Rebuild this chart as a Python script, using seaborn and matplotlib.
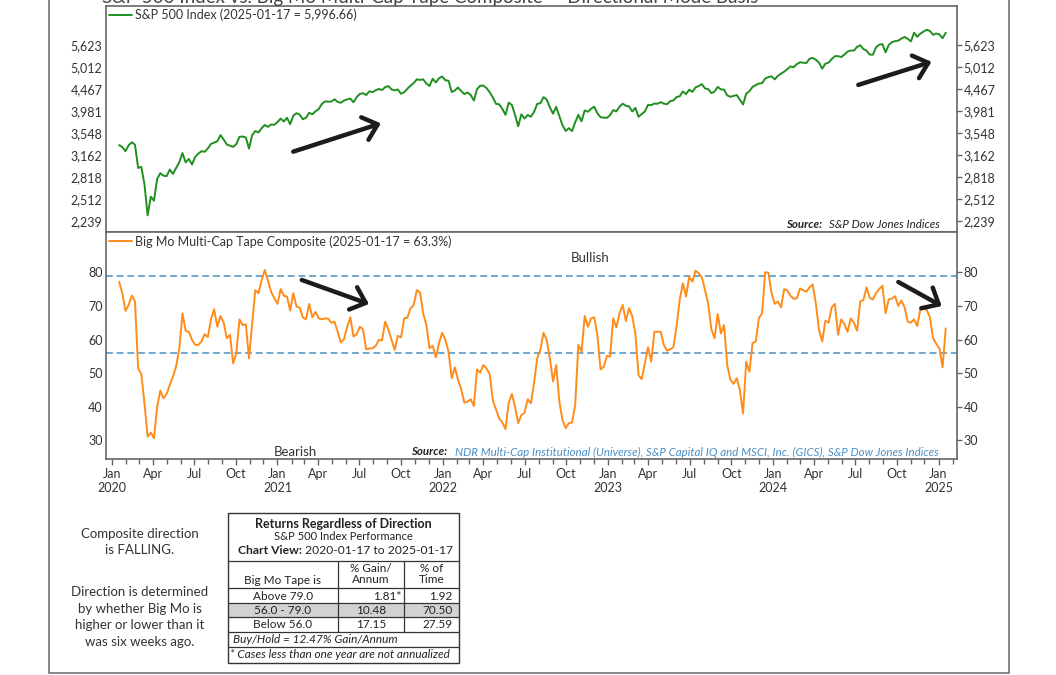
import numpy as np
import pandas as pd
import matplotlib
matplotlib.use("Agg")
import matplotlib.pyplot as plt
import matplotlib.dates as mdates
import matplotlib.ticker as mticker
from matplotlib.patches import Rectangle
from matplotlib.transforms import ScaledTranslation
import seaborn as sns

# ---- data (weekly, Fridays 2020-01-17 .. 2025-01-17) ----
dates = pd.date_range("2020-01-17", "2025-01-17", freq="W-FRI")

spx_2020 = [3329.6, 3295.5, 3225.5, 3327.7, 3380.2, 3337.8, 2954.2, 2972.4, 2711.0, 2304.9,
            2541.5, 2488.7, 2789.8, 2874.6, 2836.7, 2830.7, 2929.8, 2863.7, 2955.5, 3044.3,
            3193.9, 3041.3, 3097.7, 3009.1, 3130.0, 3185.0, 3224.7, 3215.6, 3271.1, 3351.3,
            3372.9, 3397.2, 3508.0, 3426.9, 3340.9, 3319.5, 3298.5, 3348.4, 3477.1, 3483.8,
            3465.4, 3270.0, 3509.4, 3585.2, 3557.5, 3638.4, 3699.1, 3663.5, 3709.4, 3703.1,
            3756.1]
spx_2021 = [3824.7, 3768.3, 3841.5, 3714.2, 3886.8, 3934.8, 3906.7, 3811.2, 3841.9, 3943.3,
            3913.1, 3974.5, 4019.9, 4128.8, 4185.5, 4180.2, 4181.2, 4232.6, 4173.9, 4155.9,
            4204.1, 4229.9, 4247.4, 4166.5, 4280.7, 4352.3, 4369.6, 4327.2, 4411.8, 4395.3,
            4436.5, 4468.0, 4441.7, 4509.4, 4535.4, 4458.6, 4433.0, 4455.5, 4357.0, 4391.3,
            4471.4, 4544.9, 4605.4, 4697.5, 4682.9, 4698.0, 4594.6, 4538.4, 4712.0, 4620.6,
            4725.8, 4766.2]
spx_2022 = [4677.0, 4662.9, 4397.9, 4431.9, 4500.5, 4418.6, 4348.9, 4384.7, 4328.9, 4204.3,
            4463.1, 4543.1, 4545.9, 4488.3, 4392.6, 4271.8, 4131.9, 4123.3, 4023.9, 3901.4,
            4158.2, 4108.5, 3900.9, 3674.8, 3911.7, 3825.3, 3899.4, 3863.2, 3961.6, 4130.3,
            4145.2, 4280.2, 4228.5, 4057.7, 3924.3, 4067.4, 3873.3, 3693.2, 3585.6, 3639.7,
            3583.1, 3752.8, 3901.1, 3770.6, 3992.9, 3965.3, 4026.1, 4071.7, 3934.4, 3852.4,
            3844.8, 3839.5]
spx_2023 = [3895.1, 3999.1, 3972.6, 4070.6, 4136.5, 4090.5, 4079.1, 3970.0, 4045.6, 3861.6,
            3916.6, 3971.0, 4109.3, 4105.0, 4137.6, 4133.5, 4169.5, 4136.3, 4124.1, 4192.0,
            4205.5, 4282.4, 4298.9, 4409.6, 4348.3, 4450.4, 4398.9, 4505.4, 4536.3, 4582.2,
            4478.0, 4464.1, 4369.7, 4405.7, 4515.8, 4457.5, 4450.3, 4320.1, 4288.1, 4308.5,
            4327.8, 4224.2, 4117.4, 4358.3, 4415.2, 4514.0, 4559.3, 4594.6, 4604.4, 4719.2,
            4754.6, 4769.8]
spx_2024 = [4697.2, 4783.8, 4839.8, 4891.0, 4958.6, 5026.6, 5005.6, 5088.8, 5137.1, 5123.7,
            5117.1, 5234.2, 5254.4, 5204.3, 5123.4, 4967.2, 5100.0, 5127.8, 5222.7, 5303.3,
            5304.7, 5277.5, 5347.0, 5431.6, 5464.6, 5460.5, 5567.2, 5615.4, 5505.0, 5459.1,
            5346.6, 5344.2, 5554.3, 5634.6, 5648.4, 5408.4, 5626.0, 5702.6, 5738.2, 5751.1,
            5815.0, 5864.7, 5808.1, 5728.8, 5995.5, 5870.6, 5969.3, 6032.4, 6090.3, 6051.1,
            5930.9, 5970.8]
spx_2025 = [5942.5, 5827.0, 5996.7]

bigmo_2020 = [77.2, 73.8, 68.5, 70.3, 73.1, 71.3, 51.4, 49.7, 41.0, 31.1,
              32.3, 30.6, 40.0, 44.8, 42.5, 43.8, 46.5, 49.0, 52.0, 57.4,
              67.8, 62.6, 62.3, 59.9, 58.4, 58.4, 59.4, 61.6, 60.7, 66.0,
              69.0, 63.8, 67.0, 65.0, 60.4, 61.4, 52.9, 55.9, 66.0, 64.3,
              64.5, 54.4, 64.8, 74.7, 73.8, 77.7, 80.7, 77.5, 74.2, 72.3,
              70.6]
bigmo_2021 = [75.0, 73.0, 72.8, 68.6, 73.8, 69.8, 69.5, 66.6, 66.0,
              70.6, 66.6, 68.2, 66.3, 66.0, 66.3, 66.2, 65.0, 65.3, 62.3,
              59.1, 60.1, 63.7, 66.6, 60.9, 61.6, 63.8, 63.0, 57.1, 57.3,
              57.4, 58.1, 59.9, 59.7, 65.3, 63.0, 59.9, 56.9, 61.1, 60.6,
              66.3, 66.5, 69.3, 70.3, 74.7, 74.0, 67.8, 64.3, 57.4, 58.1,
              54.7, 58.9, 62.0]
bigmo_2022 = [59.9, 56.4, 48.5, 51.7, 48.0, 45.2, 41.2,
              41.5, 42.2, 40.2, 51.1, 50.1, 52.4, 51.4, 49.7, 41.8, 39.2,
              36.5, 35.3, 33.3, 41.2, 43.8, 40.0, 35.1, 37.5,
              38.2, 42.2, 41.0, 47.0, 54.4, 56.9, 62.0, 59.9, 54.4, 47.5,
              52.4, 41.5, 36.0, 33.6, 35.1, 35.3, 40.5, 58.4, 56.4, 67.0,
              63.8, 66.3, 66.6, 61.4, 51.1, 51.9, 55.1]
bigmo_2023 = [54.9, 66.3, 63.6,
              67.8, 70.3, 65.5, 69.3, 67.0, 61.8, 49.4, 48.2, 52.9, 57.7,
              53.4, 62.3, 62.3, 62.3, 58.4, 56.7, 57.1, 57.7, 63.8, 71.8,
              76.7, 72.8, 78.7, 77.2, 80.5, 79.7, 78.5, 74.7, 70.6, 63.0,
              60.4, 67.6, 61.8, 64.3, 52.4, 48.0, 46.8, 48.5, 45.0, 38.0,
              53.4, 50.4, 58.9, 59.4, 66.3, 67.8, 80.0, 79.9, 73.8]
bigmo_2024 = [70.6,
              71.3, 69.6, 75.0, 74.6, 73.0, 72.1, 72.3, 75.2, 74.7, 74.2,
              75.5, 76.4, 70.6, 62.8, 59.4, 65.6, 65.0, 69.6, 70.6, 61.4,
              66.0, 64.6, 62.3, 66.3, 65.0, 62.6, 71.3, 71.8, 75.5, 72.4,
              71.9, 73.8, 75.0, 76.0, 67.8, 71.9, 72.2, 72.9, 70.0, 71.6,
              69.6, 65.3, 65.0, 66.0, 64.0, 69.1, 69.3, 68.8, 66.6, 60.4,
              58.7]
bigmo_2025 = [57.4, 51.7, 63.3]

spx_ticks = [2239, 2512, 2818, 3162, 3548, 3981, 4467, 5012, 5623]
bigmo_ticks = [30, 40, 50, 60, 70, 80]
upper_band = 79.0
lower_band = 56.0

title = "S&P 500 Index vs. Big Mo Multi-Cap Tape Composite \u2014 Directional Mode Basis"
spx_label = "S&P 500 Index (2025-01-17 = 5,996.66)"
bigmo_label = "Big Mo Multi-Cap Tape Composite (2025-01-17 = 63.3%)"

table_title = "Returns Regardless of Direction"
table_sub = "S&P 500 Index Performance"
table_view = "2020-01-17 to 2025-01-17"
table_bands = ["Above 79.0", "56.0 - 79.0", "Below 56.0"]
table_gain = ["1.81*", "10.48", "17.15"]
table_time = ["1.92", "70.50", "27.59"]
buy_hold = "Buy/Hold = 12.47% Gain/Annum"
footnote = "* Cases less than one year are not annualized"
side_note_1 = "Composite direction\nis FALLING."
side_note_2 = "Direction is determined\nby whether Big Mo is\nhigher or lower than it\nwas six weeks ago."

df = pd.DataFrame({
    "date": dates,
    "spx": spx_2020 + spx_2021 + spx_2022 + spx_2023 + spx_2024 + spx_2025,
    "bigmo": bigmo_2020 + bigmo_2021 + bigmo_2022 + bigmo_2023 + bigmo_2024 + bigmo_2025,
})

# ---- style ----
sns.set_theme(style="white")
plt.rcParams["font.family"] = ["Lato", "DejaVu Sans"]
GREEN = "#1f8f1f"
ORANGE = "#ff8c1a"
BLUE = "#4a8fc4"
SPINE = "#666666"
TXT = "#333333"

fig = plt.figure(figsize=(10.56, 6.75), dpi=100)
ax1 = fig.add_axes([0.1004, 0.6563, 0.8059, 0.3353])
ax2 = fig.add_axes([0.1004, 0.3196, 0.8059, 0.3367], sharex=ax1)

sns.lineplot(data=df, x="date", y="spx", ax=ax1, color=GREEN, linewidth=1.4, label=spx_label)
sns.lineplot(data=df, x="date", y="bigmo", ax=ax2, color=ORANGE, linewidth=1.4, label=bigmo_label)

# top panel: log scale
ax1.set_yscale("log")
ax1.set_ylim(2113, 6908)
ax1.yaxis.set_major_locator(mticker.FixedLocator(spx_ticks))
ax1.yaxis.set_major_formatter(mticker.FuncFormatter(lambda v, p: f"{v:,.0f}"))
ax1.yaxis.set_minor_locator(mticker.NullLocator())

# bottom panel
ax2.set_ylim(24.35, 92.0)
ax2.yaxis.set_major_locator(mticker.FixedLocator(bigmo_ticks))
ax2.axhline(upper_band, color=BLUE, lw=1.1, dashes=(4.5, 2.5), zorder=1)
ax2.axhline(lower_band, color=BLUE, lw=1.1, dashes=(4.5, 2.5), zorder=1)

ax1.set_xlim(pd.Timestamp("2019-12-19"), pd.Timestamp("2025-02-11"))
ax2.xaxis.set_major_locator(mdates.MonthLocator(bymonth=[1, 4, 7, 10]))
ax2.xaxis.set_minor_locator(mdates.MonthLocator())


def fmt_month(v, p):
    d = mdates.num2date(v)
    if d.month == 1:
        return f"Jan\n{d.year}"
    return d.strftime("%b")


ax2.xaxis.set_major_formatter(mticker.FuncFormatter(fmt_month))

for ax in (ax1, ax2):
    ax.set_xlabel("")
    ax.set_ylabel("")
    for s in ax.spines.values():
        s.set_color(SPINE)
        s.set_linewidth(1.2)
    ax.tick_params(axis="y", which="both", left=False, right=True, labelleft=True,
                   labelright=True, length=3.5, width=1, color=SPINE, pad=1,
                   labelsize=9, labelcolor=TXT, direction="out")
    leg = ax.legend(loc="upper left", frameon=False, fontsize=9, handlelength=1.8,
                    handletextpad=0.3, borderaxespad=0.1, borderpad=0.15)
    for t in leg.get_texts():
        t.set_color(TXT)

ax1.tick_params(axis="x", which="both", bottom=False, labelbottom=False)
ax2.tick_params(axis="x", which="major", bottom=True, length=4.5, width=1, color=SPINE,
                labelsize=9, labelcolor=TXT, pad=2)
ax2.tick_params(axis="x", which="minor", bottom=True, length=3.5, width=1, color=SPINE)

# left-hand tick labels sit close to the spine (no tick marks on that side)
shift = ScaledTranslation(2 / 72, 0, fig.dpi_scale_trans)
for ax in (ax1, ax2):
    for tk in ax.yaxis.get_major_ticks():
        tk.label1.set_transform(tk.label1.get_transform() + shift)

# labels inside panels
ax2.text(0.569, 0.886, "Bullish", transform=ax2.transAxes, ha="center", va="center",
         fontsize=9.5, color=TXT)
ax2.text(0.223, 0.033, "Bearish", transform=ax2.transAxes, ha="center", va="center",
         fontsize=9.5, color=TXT)

s1 = ax1.text(0.980, 0.031, "S&P Dow Jones Indices", transform=ax1.transAxes, ha="right",
              va="center", style="italic", fontsize=8.3, color="#222222")
ax1.annotate("Source:   ", xy=(0, 0.5), xycoords=s1, ha="right", va="center",
             style="italic", weight="bold", fontsize=8.3, color="#222222")
s2 = ax2.text(0.978, 0.032,
              "NDR Multi-Cap Institutional (Universe), S&P Capital IQ and MSCI, Inc. (GICS), S&P Dow Jones Indices",
              transform=ax2.transAxes, ha="right", va="center", style="italic", fontsize=8.3,
              color=BLUE)
ax2.annotate("Source:   ", xy=(0, 0.5), xycoords=s2, ha="right", va="center",
             style="italic", weight="bold", fontsize=8.3, color="#222222")

# hand-drawn style arrows
arrow = dict(arrowstyle="->,head_length=0.97,head_width=0.85", lw=3.2, color="#1c1c1c",
             shrinkA=0, shrinkB=0, capstyle="round", joinstyle="round", mutation_scale=10)
ax1.annotate("", xy=(0.323, 0.480), xytext=(0.220, 0.355), xycoords="axes fraction",
             arrowprops=arrow)
ax1.annotate("", xy=(0.970, 0.752), xytext=(0.884, 0.650), xycoords="axes fraction",
             arrowprops=arrow)
ax2.annotate("", xy=(0.309, 0.683), xytext=(0.230, 0.789), xycoords="axes fraction",
             arrowprops=arrow)
ax2.annotate("", xy=(0.982, 0.674), xytext=(0.931, 0.780), xycoords="axes fraction",
             arrowprops=arrow)

# title (clipped at the top as in the original)
fig.text(0.407, 1 - 3 / 675, title, ha="center", va="baseline", fontsize=13.5, color="#444444")

# ---- lower area drawn in pixel coordinates ----
ov = fig.add_axes([0, 0, 1, 1], facecolor="none")
ov.set_xlim(0, 1056)
ov.set_ylim(675, 0)
ov.axis("off")

# outer frame
ov.plot([49, 49, 1009, 1009], [0, 672.5, 672.5, 0], color=SPINE, lw=1.1)

ov.text(140, 542, side_note_1, ha="center", va="center", fontsize=9.5, color=TXT,
        linespacing=1.45)
ov.text(140, 617, side_note_2, ha="center", va="center", fontsize=9.5, color=TXT,
        linespacing=1.45)

L, R, T, B = 227.5, 458.5, 512.5, 663
c1, c2 = 337.7, 404.3
row_lines = [561, 588.3, 603.3, 617.3, 631.7, 646.7]
ov.add_patch(Rectangle((L, row_lines[2]), R - L, row_lines[3] - row_lines[2],
                       facecolor="#d2d2d2", edgecolor="none"))
ov.add_patch(Rectangle((L, T), R - L, B - T, facecolor="none", edgecolor="#333333", lw=1.0))
for yy in row_lines:
    ov.plot([L, R], [yy, yy], color="#333333", lw=0.9)
for xx in (c1, c2):
    ov.plot([xx, xx], [row_lines[0], row_lines[4]], color="#333333", lw=0.9)

ov.text(343, 523.5, table_title, ha="center", va="center", fontsize=9, weight="bold",
        color="#222222")
ov.text(343, 536.5, table_sub, ha="center", va="center", fontsize=8, color="#222222")
cv = ov.text(379, 550.5, table_view, ha="center", va="center", fontsize=8.7,
             color="#222222")
ov.annotate("Chart View: ", xy=(0, 0.5), xycoords=cv, ha="right", va="center",
            fontsize=8.7, weight="bold", color="#222222")
ov.text((L + c1) / 2, 580, "Big Mo Tape is", ha="center", va="center", fontsize=8.5,
        color="#222222")
ov.text((c1 + c2) / 2, 574, "% Gain/\nAnnum", ha="center", va="center", fontsize=8.5,
        color="#222222", linespacing=1.0)
ov.text((c2 + R) / 2, 574, "% of\nTime", ha="center", va="center", fontsize=8.5,
        color="#222222", linespacing=1.0)
row_y = [596, 610.3, 624.5]
gain_x = [401.5, 386, 386]
for i in range(3):
    ov.text((L + c1) / 2, row_y[i], table_bands[i], ha="center", va="center", fontsize=8.5,
            color="#222222")
    ov.text(gain_x[i], row_y[i], table_gain[i], ha="right", va="center", fontsize=8.5,
            color="#222222")
    ov.text(R - 6, row_y[i], table_time[i], ha="right", va="center", fontsize=8.5,
            color="#222222")
ov.text(233, 639.3, buy_hold, ha="left", va="center", fontsize=8.5, style="italic",
        color="#222222")
ov.text(230, 655, footnote, ha="left", va="center", fontsize=8.5, style="italic",
        color="#222222")

fig.savefig("out.png", dpi=100, facecolor="white")
